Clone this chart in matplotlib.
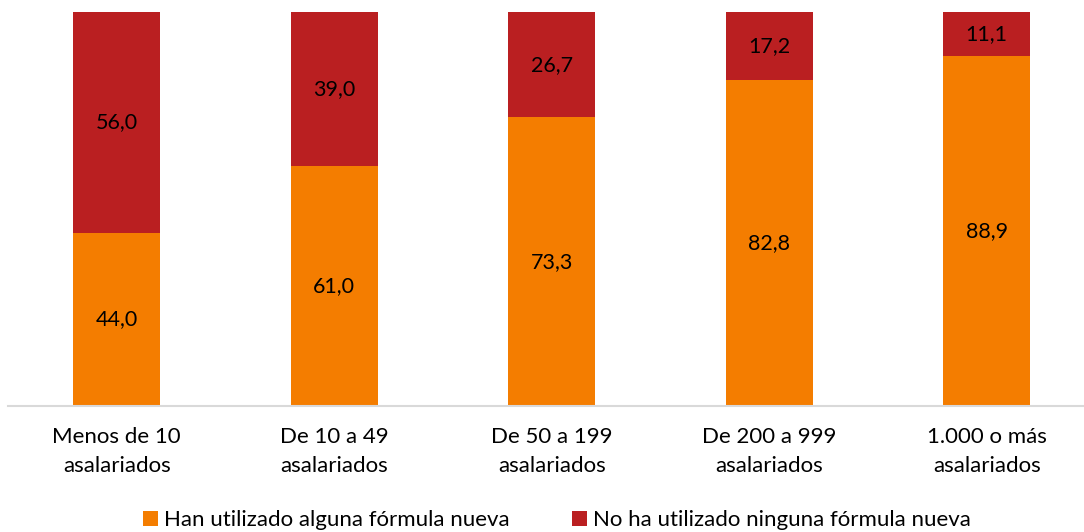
import matplotlib.pyplot as plt
import numpy as np

categories = ['Menos de 10\nasalariados', 'De 10 a 49\nasalariados', 'De 50 a 199\nasalariados',
              'De 200 a 999\nasalariados', '1.000 o más\nasalariados']
han_utilizado = [44.0, 61.0, 73.3, 82.8, 88.9]
no_utilizado = [56.0, 39.0, 26.7, 17.2, 11.1]
series_labels = ['Han utilizado alguna fórmula nueva', 'No ha utilizado ninguna fórmula nueva']

color_orange = '#F47D00'
color_red = '#BA1F21'

plt.rcParams['font.family'] = ['Lato', 'DejaVu Sans']

fig = plt.figure(figsize=(10.84, 5.32), dpi=100, facecolor='white')
ax = fig.add_axes([8 / 1084, 126 / 532, 1076 / 1084, 394 / 532])

x = np.arange(len(categories))
width = 0.4

b1 = ax.bar(x, han_utilizado, width, color=color_orange, label=series_labels[0])
b2 = ax.bar(x, no_utilizado, width, bottom=han_utilizado, color=color_red, label=series_labels[1])

def fmt(v):
    return f'{v:.1f}'.replace('.', ',')

for xi, h, n in zip(x, han_utilizado, no_utilizado):
    ax.text(xi, h / 2, fmt(h), ha='center', va='center', fontsize=15.5, color='black')
    ax.text(xi, h + n / 2, fmt(n), ha='center', va='center', fontsize=15.5, color='black')

ax.set_xlim(-0.5, -0.5 + 1076 / 217.5)
ax.set_ylim(0, 100)
ax.set_xticks(x)
ax.set_xticklabels(categories, fontsize=16, linespacing=1.6)
ax.tick_params(axis='x', length=0, pad=15)
ax.set_yticks([])

for s in ['top', 'right', 'left']:
    ax.spines[s].set_visible(False)
ax.spines['bottom'].set_color('#D9D9D9')
ax.spines['bottom'].set_linewidth(1.5)

fig.legend(handles=[b1, b2], loc='center', bbox_to_anchor=(557 / 1084, 12 / 532), ncol=2,
           frameon=False, fontsize=16, handlelength=0.68, handleheight=0.68,
           handletextpad=0.28, columnspacing=2.8)

fig.savefig('out.png', dpi=100, facecolor='white')
